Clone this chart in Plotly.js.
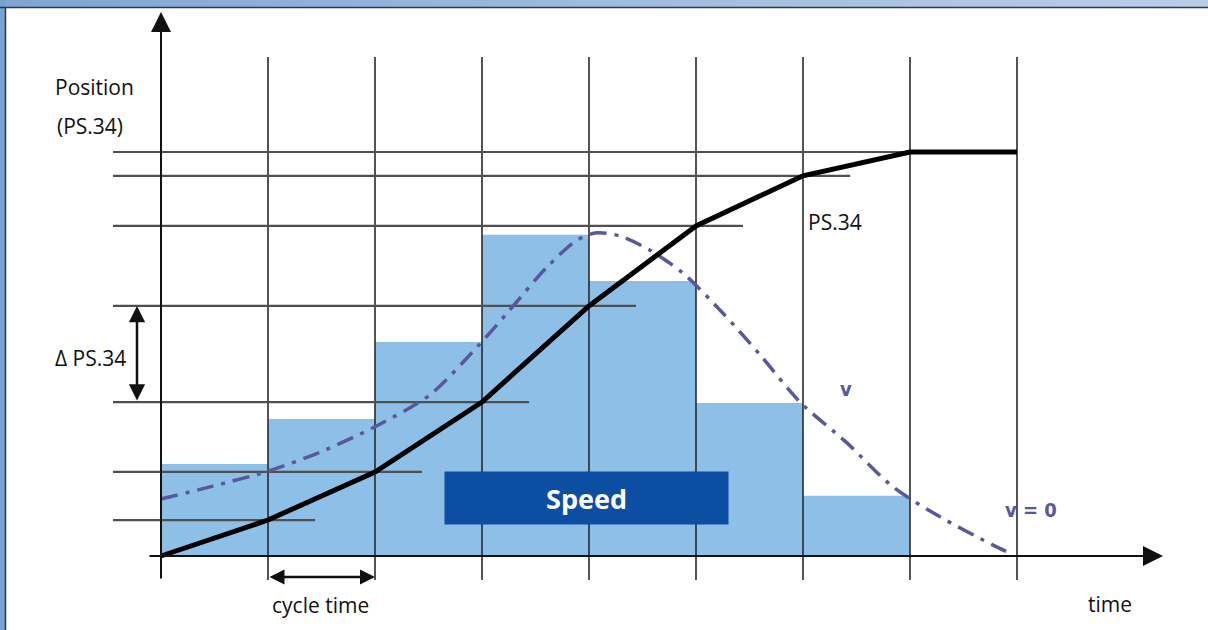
<!DOCTYPE html>
<html><head><meta charset="utf-8">
<script src="https://cdn.plot.ly/plotly-3.0.1.min.js"></script>
<style>html,body{margin:0;padding:0;background:#fff}#chart{width:1208px;height:630px}</style>
</head><body><div id="chart"></div>
<script>
// ---- data (position in % of travel, time in cycles) ----
const cycles = [0, 1, 2, 3, 4, 5, 6, 7, 8];
const position = [0, 8.9, 20.8, 38.1, 61.9, 81.7, 94.1, 100, 100];
const speedCycle = [0.5, 1.5, 2.5, 3.5, 4.5, 5.5, 6.5];
const speed = [22.8, 33.9, 53.0, 79.5, 68.1, 37.9, 14.9];
const vTime = [0, 0.486, 1, 1.486, 2, 2.514, 2.953, 3.234, 3.607, 3.888, 4.075, 4.290, 4.570, 4.879, 5.252, 5.598, 5.972, 6.411, 6.841, 7.280, 7.776, 7.935];
const vValue = [14.1, 17.3, 21.0, 25.7, 32.0, 39.9, 51.7, 60.1, 71.5, 78.2, 80.0, 79.2, 75.7, 70.0, 60.1, 49.8, 38.1, 28.0, 17.1, 9.7, 2.7, 0.7];
const labels = {
  yTitle1: 'Position', yTitle2: '(PS.34)', delta: '\u0394 PS.34', ps: 'PS.34',
  cycle: 'cycle time', time: 'time', v: 'v', v0: 'v = 0', speed: 'Speed'
};

// ---- geometry helpers (pixel -> axis units) ----
const W = 1208, H = 630;
const X = px => (px - 161) / 107;
const Y = py => (556 - py) / 4.04;
const PX = px => px / W, PY = py => 1 - py / H;

const gridTop = Y(57), gridBottom = Y(580);
const gx = [], gy = [];
cycles.slice(1).forEach(c => { gx.push(c, c, null); gy.push(gridTop, gridBottom, null); });

const lx = [], ly = [];
for (let i = 1; i < position.length - 1; i++) {
  lx.push(X(113), cycles[i] + 0.44, null);
  ly.push(position[i], position[i], null);
}

const traces = [
  {type: 'bar', x: speedCycle, y: speed, width: 1, marker: {color: '#8ebfe7', line: {width: 0}}, hoverinfo: 'skip'},
  {type: 'scatter', mode: 'lines', x: gx, y: gy, line: {color: '#2a2a2a', width: 1.6}, hoverinfo: 'skip'},
  {type: 'scatter', mode: 'lines', x: lx, y: ly, line: {color: '#505050', width: 2.2}, hoverinfo: 'skip'},
  {type: 'scatter', mode: 'lines', x: vTime, y: vValue, line: {color: '#5858a0', width: 3.5, shape: 'spline', smoothing: 0.8, dash: '17px,8px,4px,8px'}, hoverinfo: 'skip'},
  {type: 'scatter', mode: 'lines', x: cycles, y: position, line: {color: '#000', width: 5}, hoverinfo: 'skip'}
];

const font = 'Open Sans, Noto Sans, sans-serif';
const txt = (t, px, py, size, color, anchor, fam) => ({
  text: t, xref: 'paper', yref: 'paper', x: PX(px), y: PY(py), showarrow: false,
  xanchor: anchor || 'left', yanchor: 'middle', font: {family: fam || font, size: size, color: color || '#111'}
});
const arrow = (x, y, ax, ay, side, w, sz) => ({
  text: '', x: x, y: y, ax: ax, ay: ay, xref: 'x', yref: 'y', axref: 'x', ayref: 'y',
  showarrow: true, arrowhead: 2, arrowsize: sz || 1.3, arrowwidth: w || 2, arrowcolor: '#111',
  arrowside: side || 'end', standoff: 0, startstandoff: 0, startarrowhead: 2, startarrowsize: sz || 1.3
});

const annotations = [
  arrow(0, Y(12), 0, gridBottom, 'end', 2, 2),
  arrow(X(1163), 0, X(148), 0, 'end', 2, 2),
  arrow(X(137), position[4], X(137), position[3], 'end+start', 2.5, 1.3),
  arrow(cycles[2], Y(577), cycles[1], Y(577), 'end+start', 2.5, 1.2),
  txt(labels.yTitle1, 53, 87, 21),
  txt(labels.yTitle2, 55, 126, 21),
  txt(labels.delta, 53, 358, 21),
  txt(labels.ps, 806, 222, 21),
  txt(labels.cycle, 320, 605, 21, null, 'center'),
  txt(labels.time, 1110, 604, 21, null, 'center'),
  txt('<b>' + labels.v + '</b>', 846, 389, 20, '#5858a0', 'center', 'DejaVu Sans Condensed, sans-serif'),
  txt('<b>' + labels.v0 + '</b>', 1031, 510, 20, '#5858a0', 'center', 'DejaVu Sans Condensed, sans-serif'),
  {text: '<b>' + labels.speed + '</b>', xref: 'paper', yref: 'paper', x: PX(586.5), y: PY(498),
   xanchor: 'center', yanchor: 'middle', showarrow: false, width: 283, height: 52, borderpad: 0,
   bgcolor: '#0c4ea2', font: {family: font, size: 27, color: '#fff'}}
];

const grad = '<svg xmlns="http://www.w3.org/2000/svg" width="1208" height="7" preserveAspectRatio="none"><defs><linearGradient id="g" x1="0" x2="1" y1="0" y2="0"><stop offset="0" stop-color="#7ea6d1"/><stop offset="0.5" stop-color="#9fbbde"/><stop offset="1" stop-color="#b9cde7"/></linearGradient></defs><rect width="1208" height="7" fill="url(#g)"/></svg>';

const layout = {
  width: W, height: H, margin: {l: 0, r: 0, t: 0, b: 0},
  paper_bgcolor: '#fff', plot_bgcolor: '#fff', showlegend: false, barmode: 'overlay',
  xaxis: {range: [X(0), X(W)], visible: false, fixedrange: true},
  yaxis: {range: [Y(H), Y(0)], visible: false, fixedrange: true},
  annotations: annotations,
  images: [{source: 'data:image/svg+xml;charset=utf-8,' + encodeURIComponent(grad), xref: 'paper', yref: 'paper',
            x: 0, y: 1, sizex: 1, sizey: 7 / H, sizing: 'stretch', xanchor: 'left', yanchor: 'top', layer: 'above'}],
  shapes: [
    {type: 'rect', xref: 'paper', yref: 'paper', x0: 0, x1: PX(5), y0: 0, y1: 1, fillcolor: '#78a2cf', line: {width: 0}, layer: 'above'},
    {type: 'line', xref: 'paper', yref: 'paper', x0: 0, x1: 1, y0: PY(7.5), y1: PY(7.5), line: {color: '#2e3a48', width: 1.5}, layer: 'above'},
    {type: 'line', xref: 'paper', yref: 'paper', x0: PX(5.5), x1: PX(5.5), y0: 0, y1: PY(7), line: {color: '#2e3a48', width: 1.5}, layer: 'above'}
  ]
};

Plotly.newPlot('chart', traces, layout, {displayModeBar: false, staticPlot: true});
</script></body></html>
